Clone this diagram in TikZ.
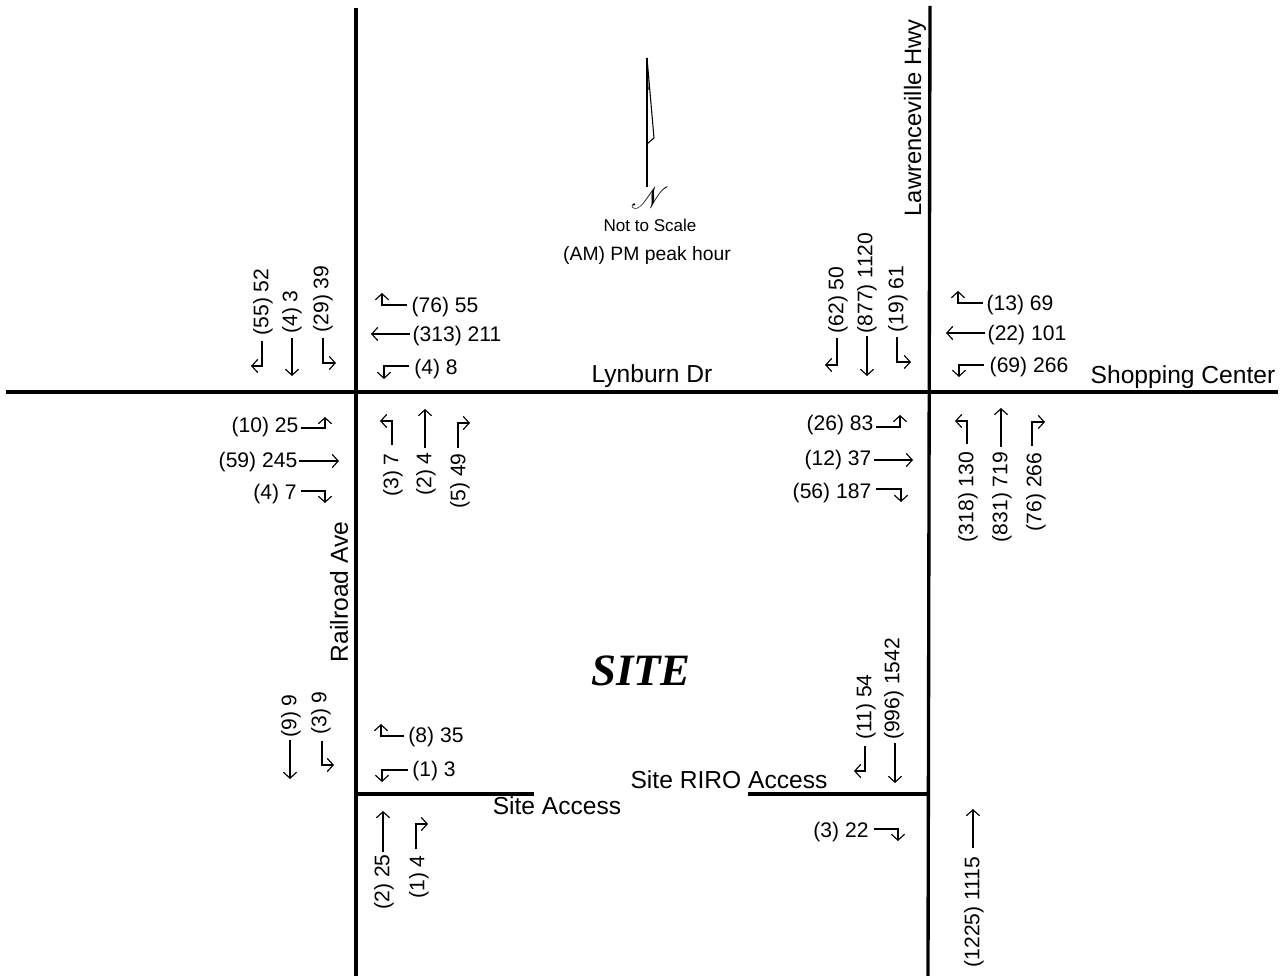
\documentclass[tikz,border=0pt]{standalone}
\usepackage{fontspec}
\setmainfont{Liberation Sans}
\newfontfamily\sitefont{Liberation Serif}
\usepackage{mathrsfs}
\usetikzlibrary{arrows.meta}
\tikzset{road/.style={black,line width=1.9pt},
 mov/.style={black,line width=.65pt,-{Straight Barb[length=3.4pt,width=7.5pt]}},
 vol/.style={inner sep=0,text depth=.4pt,font=\fontsize{12}{14}\selectfont},
 rdname/.style={inner sep=0,font=\fontsize{14}{16}\selectfont}}

\begin{document}
\begin{tikzpicture}[x=.02cm,y=-.02cm]
\useasboundingbox (0,0) rectangle (1286,976);
% roads
\draw[road] (356,8)--(356,976);
\draw[road] (6,392)--(1278,392);
\draw[road] (930,6)--(928,976);
\draw[road] (356,794)--(534,794);
\draw[road] (748,794)--(928,794);
% road names
\node[rdname] (lynburn) at (652,376) {Lynburn Dr};
\node[rdname] (shopping) at (1183,377) {Shopping Center};
\node[rdname] (siteaccess) at (557,806) {Site Access};
\node[rdname] (riro) at (729,780) {Site RIRO Access};
\node[rdname,rotate=90] (railroad) at (339,592) {Railroad Ave};
\node[rdname,font=\fontsize{13.5}{16}\selectfont,rotate=90] (lawrenceville) at (915,118) {Lawrenceville Hwy};
% north arrow
\draw[black,line width=.7pt] (647,187)--(647,58);
\draw[black,line width=.6pt] (647,58)--(654,138)--(647,144);
\fill[black] (646.4,58)--(647.6,58)--(648.6,90)--(647,90)--cycle;
\node[inner sep=0,font=\fontsize{17}{19}\selectfont] (north) at (650,198) {$\mathscr{N}$};
\node[inner sep=0,font=\fontsize{9.7}{12}\selectfont] (scale) at (650,225) {Not to Scale};
\node[inner sep=0,font=\fontsize{11}{14}\selectfont] (peak) at (647,256) {(AM) PM peak hour};
\node[inner sep=0,font=\fontsize{25.5}{28}\selectfont\sitefont\bfseries\itshape] (site) at (641,671) {SITE};
% volumes, level
\foreach \x/\y/\t [count=\i] in {445/305/(76) 55, 457/334/(313) 211, 436/367/(4) 8,
 265/425/(10) 25, 258/460/(59) 245, 275/492/(4) 7,
 1020/303/(13) 69, 1027/333/(22) 101, 1029/365/(69) 266,
 840/423/(26) 83, 838/458/(12) 37, 832/491/(56) 187,
 436/735/(8) 35, 434/769/(1) 3, 841/830/(3) 22} {
 \node[vol] (h\i) at (\x,\y) {\t};
}
% volumes, turned
\foreach \x/\y/\t [count=\i] in {261/302/(55) 52, 290/312/(4) 3, 321/299/(29) 39,
 391/475/(3) 7, 424/474/(2) 4, 458/481/(5) 49,
 836/300/(62) 50, 865/283/(877) 1120, 896/299/(19) 61,
 966/497/(318) 130, 1000/497/(831) 719, 1034/492/(76) 266,
 289/716/(9) 9, 319/713/(3) 9, 382/882/(2) 25, 417/877/(1) 4,
 864/707/(11) 54, 892/689/(996) 1542, 972/912/(1225) 1115} {
 \node[vol,rotate=90] (v\i) at (\x,\y) {\t};
}
% through movements
\foreach \xa/\ya/\xb/\yb in {410/334/371/334, 292/338/292/376, 299/461/339/461, 425/448/425/409,
 867/336/867/376, 985/333/946/333, 874/460/913/460, 1001/447/1001/408,
 290/740/290/779, 383/852/383/811, 895/743/895/783, 973/848/973/809} {
 \draw[mov] (\xa,\ya)--(\xb,\yb);
}
% turns, level first
\foreach \xa/\ya/\xb/\yb in {407/305/382/293, 409/366/384/379, 301/428/325/417, 301/491/325/503,
 983/303/958/291, 984/365/959/377, 876/427/900/415, 876/489/901/502,
 404/736/381/724, 408/770/382/782, 874/829/898/841} {
 \draw[mov] (\xa,\ya)-|(\xb,\yb);
}
% turns, upright first
\foreach \xa/\ya/\xb/\yb in {262/341/251/366, 323/338/336/363, 392/445/380/421, 458/448/470/423,
 837/338/825/365, 897/337/911/362, 967/444/955/421, 1032/446/1045/422,
 322/741/334/765, 416/849/428/824, 865/746/854/771} {
 \draw[mov] (\xa,\ya)|-(\xb,\yb);
}
\end{tikzpicture}
\end{document}
